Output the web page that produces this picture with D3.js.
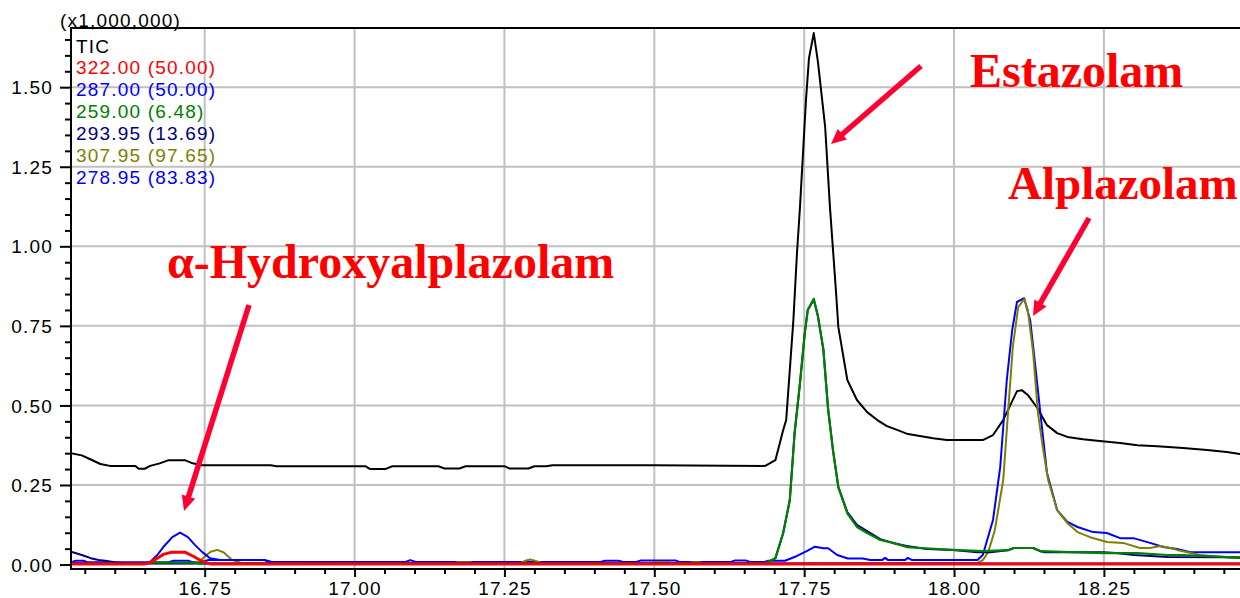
<!DOCTYPE html>
<html><head><meta charset="utf-8">
<script src="https://cdn.jsdelivr.net/npm/d3@7"></script>
<style>
html,body{margin:0;padding:0;background:#fff;}
svg{display:block;}
.sans{font-family:"Liberation Sans",Arial,sans-serif;font-size:19px;letter-spacing:1.2px;}
.ann{font-family:"Liberation Serif","Times New Roman",serif;font-weight:bold;font-size:48px;fill:#ff0000;}
</style></head>
<body>
<svg id="c" width="1240" height="598"></svg>
<script>
// ---- data (retention time in min, intensity in x1,000,000) ----
const xTickLabels = ["16.75","17.00","17.25","17.50","17.75","18.00","18.25"];
const xTicks = [16.75,17.00,17.25,17.50,17.75,18.00,18.25];
const yTickLabels = ["0.00","0.25","0.50","0.75","1.00","1.25","1.50"];
const yTicks = [0,0.25,0.5,0.75,1.0,1.25,1.5];

const legendNames = ["TIC","322.00 (50.00)","287.00 (50.00)","259.00 (6.48)","293.95 (13.69)","307.95 (97.65)","278.95 (83.83)"];
const legendColors = ["#000000","#ff0000","#0000ff","#008000","#000080","#808000","#0000ff"];

const ticData = [[16.527,0.350],[16.545,0.343],[16.560,0.330],[16.576,0.316],[16.592,0.310],[16.634,0.310],[16.640,0.301],[16.650,0.301],[16.659,0.310],[16.675,0.318],[16.690,0.328],[16.717,0.328],[16.730,0.318],[16.745,0.312],[16.860,0.312],[16.870,0.309],[17.018,0.309],[17.026,0.300],[17.051,0.300],[17.063,0.309],[17.140,0.309],[17.150,0.302],[17.175,0.302],[17.185,0.309],[17.250,0.309],[17.258,0.302],[17.290,0.302],[17.300,0.309],[17.320,0.309],[17.330,0.312],[17.500,0.312],[17.685,0.310],[17.702,0.328],[17.715,0.423],[17.720,0.454],[17.732,0.768],[17.738,0.979],[17.743,1.123],[17.753,1.459],[17.758,1.591],[17.766,1.670],[17.773,1.579],[17.785,1.375],[17.793,1.123],[17.803,0.860],[17.807,0.746],[17.822,0.580],[17.838,0.517],[17.855,0.479],[17.872,0.454],[17.888,0.435],[17.905,0.423],[17.923,0.410],[17.943,0.404],[17.965,0.397],[17.988,0.391],[18.048,0.391],[18.065,0.407],[18.082,0.454],[18.105,0.545],[18.113,0.548],[18.123,0.533],[18.139,0.492],[18.155,0.438],[18.172,0.413],[18.189,0.401],[18.215,0.394],[18.243,0.388],[18.277,0.382],[18.306,0.375],[18.339,0.372],[18.382,0.366],[18.422,0.360],[18.455,0.354],[18.477,0.347]];

const mz322 = [[16.527,0.002],[16.650,0.002],[16.659,0.006],[16.671,0.020],[16.681,0.032],[16.695,0.039],[16.717,0.039],[16.731,0.026],[16.748,0.008],[16.760,0.002],[18.477,0.002]];

const mz287 = [[16.527,0.004],[16.650,0.004],[16.659,0.008],[16.671,0.030],[16.681,0.055],[16.696,0.086],[16.709,0.100],[16.722,0.086],[16.734,0.061],[16.746,0.039],[16.759,0.020],[16.776,0.014],[16.850,0.014],[16.860,0.006],[16.870,0.003],[18.477,0.003]];

const mz259 = [[16.527,0.003],[16.650,0.003],[16.665,0.006],[16.730,0.006],[16.745,0.003],[17.685,0.004],[17.702,0.020],[17.715,0.099],[17.726,0.202],[17.734,0.412],[17.743,0.570],[17.751,0.727],[17.756,0.800],[17.766,0.835],[17.773,0.780],[17.782,0.676],[17.790,0.487],[17.798,0.360],[17.807,0.243],[17.822,0.161],[17.838,0.118],[17.855,0.099],[17.877,0.077],[17.898,0.068],[17.921,0.055],[17.943,0.052],[17.998,0.046],[18.048,0.042],[18.090,0.045],[18.100,0.052],[18.132,0.052],[18.144,0.042],[18.194,0.039],[18.250,0.036],[18.306,0.036],[18.356,0.030],[18.382,0.030],[18.449,0.024],[18.477,0.021]];

const mz293 = [[16.527,0.040],[16.545,0.030],[16.560,0.020],[16.573,0.014],[16.584,0.012],[16.600,0.007],[16.620,0.003],[17.685,0.003],[17.702,0.020],[17.715,0.099],[17.726,0.202],[17.734,0.412],[17.743,0.570],[17.751,0.727],[17.756,0.800],[17.766,0.832],[17.773,0.780],[17.782,0.676],[17.790,0.487],[17.798,0.360],[17.807,0.243],[17.822,0.165],[17.838,0.125],[17.855,0.105],[17.877,0.080],[17.898,0.068],[17.921,0.058],[17.943,0.052],[17.955,0.049],[17.998,0.046],[18.039,0.039],[18.060,0.039],[18.090,0.045],[18.100,0.052],[18.132,0.052],[18.144,0.042],[18.150,0.039],[18.250,0.039],[18.270,0.036],[18.300,0.030],[18.356,0.024],[18.449,0.023],[18.477,0.021]];

const mz307 = [[16.527,0.006],[16.560,0.004],[16.730,0.004],[16.742,0.010],[16.750,0.025],[16.760,0.040],[16.771,0.046],[16.782,0.038],[16.795,0.015],[16.810,0.006],[16.870,0.003],[17.165,0.003],[17.172,0.007],[17.193,0.007],[17.200,0.003],[17.275,0.003],[17.285,0.012],[17.293,0.016],[17.305,0.010],[17.315,0.003],[17.495,0.003],[17.500,0.007],[17.525,0.007],[17.530,0.003],[17.558,0.003],[17.562,0.007],[17.577,0.007],[17.582,0.003],[17.994,0.005],[18.039,0.005],[18.048,0.014],[18.057,0.039],[18.068,0.108],[18.082,0.265],[18.090,0.476],[18.098,0.683],[18.107,0.809],[18.117,0.834],[18.123,0.800],[18.132,0.664],[18.140,0.476],[18.148,0.369],[18.157,0.265],[18.172,0.171],[18.189,0.130],[18.206,0.102],[18.227,0.086],[18.255,0.071],[18.282,0.068],[18.310,0.052],[18.327,0.052],[18.344,0.058],[18.360,0.052],[18.372,0.046],[18.410,0.030],[18.449,0.024],[18.477,0.024]];

const mz278 = [[16.527,0.007],[16.535,0.012],[16.548,0.012],[16.555,0.007],[16.690,0.007],[16.698,0.012],[16.722,0.012],[16.730,0.007],[16.745,0.007],[16.755,0.014],[16.850,0.014],[16.862,0.008],[17.085,0.008],[17.093,0.014],[17.102,0.008],[17.410,0.008],[17.418,0.012],[17.440,0.012],[17.448,0.008],[17.470,0.008],[17.478,0.013],[17.535,0.013],[17.542,0.008],[17.628,0.008],[17.635,0.013],[17.652,0.013],[17.660,0.008],[17.684,0.008],[17.690,0.012],[17.718,0.012],[17.738,0.027],[17.755,0.043],[17.768,0.056],[17.782,0.051],[17.790,0.051],[17.805,0.030],[17.823,0.019],[17.848,0.019],[17.860,0.014],[17.880,0.014],[17.885,0.021],[17.890,0.014],[17.918,0.014],[17.923,0.021],[17.930,0.014],[18.039,0.014],[18.048,0.030],[18.065,0.140],[18.077,0.306],[18.088,0.580],[18.097,0.737],[18.105,0.825],[18.117,0.837],[18.127,0.768],[18.135,0.633],[18.144,0.476],[18.155,0.288],[18.172,0.171],[18.189,0.134],[18.206,0.118],[18.232,0.102],[18.255,0.099],[18.277,0.083],[18.299,0.083],[18.327,0.068],[18.349,0.055],[18.372,0.049],[18.394,0.039],[18.477,0.039]];

const annLabels = ["Estazolam","Alplazolam","\u03b1-Hydroxyalplazolam"];

// ---- drawing ----
const L = 71, R = 1240, T = 28, B = 569;
const svg = d3.select("#c");
const x = d3.scaleLinear().domain([16.527, 18.477]).range([L, R]);
const y = d3.scaleLinear().domain([-0.014, 1.686]).range([B, T]);

svg.append("defs").append("clipPath").attr("id","clip")
  .append("rect").attr("x",L).attr("y",T).attr("width",R-L).attr("height",B-T);

// gridlines
const grid = svg.append("g").attr("stroke","#c0c0c0").attr("stroke-width",2);
grid.selectAll("line.gx").data(xTicks).join("line")
  .attr("x1",d=>x(d)).attr("x2",d=>x(d)).attr("y1",T).attr("y2",B);
grid.selectAll("line.gy").data(yTicks.filter(d=>d>0)).join("line")
  .attr("x1",L).attr("x2",R).attr("y1",d=>y(d)).attr("y2",d=>y(d));

// series lines
const line = d3.line().x(d=>x(d[0])).y(d=>y(d[1]));
const plot = svg.append("g").attr("clip-path","url(#clip)").attr("fill","none")
  .attr("stroke-linejoin","round").attr("stroke-linecap","round");
const order = [
  [ticData,"#000000",2],
  [mz278,"#0000ff",2],
  [mz307,"#808000",2],
  [mz293,"#000080",2],
  [mz259,"#008000",2.2],
  [mz287,"#0000ff",2],
  [mz322,"#ff0000",3]
];
order.forEach(([d,c,w])=>{
  plot.append("path").datum(d).attr("d",line).attr("stroke",c).attr("stroke-width",w);
});

// axes
const minorX = d3.range(16.55, 18.48, 0.05).filter(v=>!xTicks.some(t=>Math.abs(t-v)<1e-6));
const minorY = d3.range(0.05, 1.686, 0.05).filter(v=>!yTicks.some(t=>Math.abs(t-v)<1e-6));

const xAxisMinor = svg.append("g").attr("transform",`translate(0,${B})`)
  .call(d3.axisBottom(x).tickValues(minorX).tickSize(5).tickFormat(""));
const xAxis = svg.append("g").attr("transform",`translate(0,${B})`)
  .call(d3.axisBottom(x).tickValues(xTicks).tickSize(8).tickFormat((d,i)=>xTickLabels[i]));
const yAxisMinor = svg.append("g").attr("transform",`translate(${L},0)`)
  .call(d3.axisLeft(y).tickValues(minorY).tickSize(6).tickFormat(""));
const yAxis = svg.append("g").attr("transform",`translate(${L},0)`)
  .call(d3.axisLeft(y).tickValues(yTicks).tickSize(11).tickFormat((d,i)=>yTickLabels[i]));

[xAxisMinor,xAxis,yAxisMinor,yAxis].forEach(g=>{
  g.select(".domain").remove();
  g.selectAll(".tick line").attr("stroke","#000").attr("stroke-width",2);
  g.selectAll("text").attr("class","sans").attr("fill","#000").attr("font-size",null).attr("font-family",null);
});
xAxis.selectAll("text").attr("dy",null).attr("y",26);
yAxis.selectAll("text").attr("dy","0.35em").attr("x",-18);

// frame: left axis, bottom axis, top border
svg.append("line").attr("x1",L).attr("x2",L).attr("y1",T-1).attr("y2",B+1).attr("stroke","#000").attr("stroke-width",2);
svg.append("line").attr("x1",L-1).attr("x2",R).attr("y1",B).attr("y2",B).attr("stroke","#000").attr("stroke-width",2);
svg.append("line").attr("x1",L-1).attr("x2",R).attr("y1",T).attr("y2",T).attr("stroke","#000").attr("stroke-width",2);

// unit label
svg.append("text").attr("class","sans").attr("x",60).attr("y",27).text("(x1,000,000)");

// legend
svg.append("g").selectAll("text").data(legendNames).join("text")
  .attr("class","sans").attr("x",76).attr("y",(d,i)=>52.5+21.9*i)
  .attr("fill",(d,i)=>legendColors[i]).text(d=>d);

// annotations (pixel layout)
const annPos = [[970,87,48],[1008,199,47],[167,278,48]];
svg.append("g").selectAll("text").data(annLabels).join("text")
  .attr("class","ann").attr("x",(d,i)=>annPos[i][0]).attr("y",(d,i)=>annPos[i][1])
  .style("font-size",(d,i)=>annPos[i][2]+"px").text(d=>d);

const arrows = [[[921,66],[831,144]],[[1089,218],[1033,316]],[[249,305],[184,511]]];
const ag = svg.append("g");
const ac = "#ff0033";
arrows.forEach(([a,b])=>{
  const dx=b[0]-a[0], dy=b[1]-a[1], len=Math.hypot(dx,dy);
  const ux=dx/len, uy=dy/len, px=-uy, py=ux;
  const hl=15, hw=7;
  const bx=b[0]-ux*hl, by=b[1]-uy*hl;
  ag.append("line").attr("x1",a[0]).attr("y1",a[1]).attr("x2",bx+ux*2).attr("y2",by+uy*2)
    .attr("stroke",ac).attr("stroke-width",5.5);
  ag.append("polygon").attr("fill",ac)
    .attr("points",[[b[0],b[1]],[bx+px*hw,by+py*hw],[bx-px*hw,by-py*hw]].map(p=>p.join(",")).join(" "));
});
</script>
</body></html>
